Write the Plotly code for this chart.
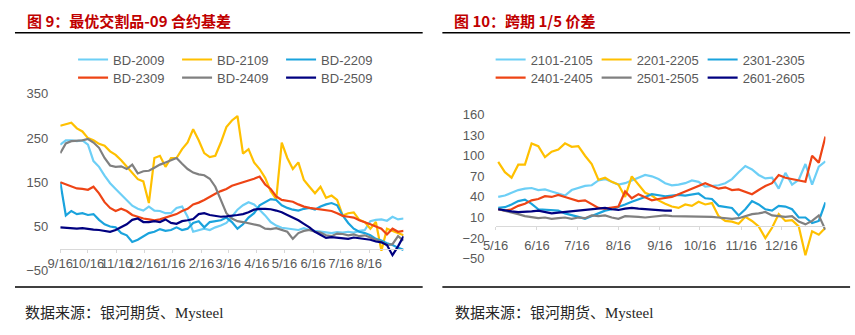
import pandas as pd
import plotly.graph_objects as go

W, H = 855, 335

# ---------------- data: left chart (最优交割品-09 合约基差) ----------------
left_start = "2019-09-16"
left_step_days = 6
bd_2009 = [235, 245, 245, 243, 245, 235, 198, 185, 165, 148, 135, 122, 110, 97, 90, 86, 95, 86, 85, 80,
           80, 92, 95, 72, 38, 42, 45, 42, 48, 52, 58, 72, 88, 98, 105, 100, 88, 75, 60, 52,
           47, 45, 43, 42, 46, 42, 40, 38, 36, 35, 37, 36, 38, 36, 40, 42, 62, 65, 66, 63,
           72, 66, 68]
bd_2109 = [278, 282, 285, 272, 265, 250, 245, 237, 233, 220, 212, 200, 185, 170, 157, 152, 103, 205, 210, 185,
           205, 205, 225, 240, 270, 245, 216, 207, 210, 240, 275, 290, 300, 215, 225, 195, 180, 160, 130, 112,
           240, 205, 180, 195, 155, 140, 125, 140, 115, 120, 110, 75, 80, 82, 65, 60, 45, 60, -5, 45,
           40, 35, 30]
bd_2209 = [150, 75, 85, 78, 80, 76, 78, 65, 55, 50, 48, 35, 30, 15, 20, 28, 35, 38, 44, 40,
           42, 48, 42, 45, 58, 62, 48, 60, 62, 64, 70, 60, 45, 55, 70, 80, 98, 105, 112, 110,
           98, 92, 88, 86, 90, 92, 88, 95, 100, 103, 98, 75, 58, 45, 38, 35, 30, 22, 18, 12,
           8, 2, -3]
bd_2309 = [150, 145, 140, 136, 135, 133, 140, 125, 105, 92, 85, 90, 85, 76, 72, 68, 66, 64, 66, 70,
           75, 78, 85, 90, 100, 104, 110, 118, 124, 130, 135, 142, 146, 150, 153, 158, 163, 145, 135, 118,
           110, 108, 106, 100, 95, 92, 90, 88, 86, 85, 80, 74, 72, 70, 64, 60, 55, 50, 45, 32,
           45, 38, 40]
bd_2409 = [216, 238, 243, 244, 245, 248, 240, 228, 205, 188, 185, 186, 180, 190, 170, 175, 176, 183, 190, 195,
           200, 205, 192, 180, 172, 168, 166, 158, 140, 110, 80, 68, 62, 60, 57, 55, 52, 45, 44, 46,
           42, 38, 22, 35, 40, 42, 38, 36, 30, 28, 34, 33, 30, 32, 28, 30, 25, 20, 15, 8,
           10, 28, 18]
bd_2509 = [48, 47, 46, 45, 46, 44, 43, 42, 40, 38, 42, 48, 55, 65, 68, 60, 60, 62, 60, 66,
           58, 56, 62, 64, 67, 78, 80, 76, 74, 72, 73, 74, 76, 78, 82, 88, 90, 90, 89, 86,
           82, 76, 70, 64, 56, 48, 38, 30, 24, 26, 25, 24, 22, 25, 23, 22, 20, 16, 14, 8,
           -15, 5, 28]
left_names = ["BD-2009", "BD-2109", "BD-2209", "BD-2309", "BD-2409", "BD-2509"]
left_tick_dates = ["2019-09-16", "2019-10-16", "2019-11-16", "2019-12-16", "2020-01-16", "2020-02-16",
                   "2020-03-16", "2020-04-16", "2020-05-16", "2020-06-16", "2020-07-16", "2020-08-16"]
left_tick_labels = ["9/16", "10/16", "11/16", "12/16", "1/16", "2/16",
                    "3/16", "4/16", "5/16", "6/16", "7/16", "8/16"]
left_y_ticks = [-50, 50, 150, 250, 350]

# ---------------- data: right chart (跨期 1/5 价差) ----------------
right_start = "2020-05-18"
right_step_days = 5
s_2101_2105 = [40, 42, 46, 50, 52, 53, 50, 51, 48, 45, 42, 50, 53, 56, 57, 64, 66, 62, 58, 60,
               64, 68, 72, 70, 66, 60, 57, 58, 60, 64, 62, 55, 56, 57, 60, 66, 76, 85, 80, 72,
               67, 68, 52, 75, 58, 65, 88, 58, 84, 92]
s_2201_2205 = [91, 76, 68, 87, 87, 118, 114, 98, 106, 109, 118, 113, 114, 100, 88, 65, 68, 62, 58, 40,
               70, 58, 46, 42, 35, 30, 26, 24, 29, 27, 33, 29, 31, 12, 5, 4, 1, 11, 5, -3,
               -20, -5, 15, 5, 6, -3, -45, -10, -15, -5]
s_2301_2305 = [24, 25, 29, 34, 36, 30, 22, 21, 20, 20, 16, 14, 11, 8, 12, 15, 20, 22, 25, 29,
               33, 36, 40, 44, 42, 41, 42, 43, 42, 43, 45, 38, 37, 27, 25, 24, 13, 22, 34, 29,
               22, 20, 27, 26, 22, 10, 10, 2, 5, 32]
s_2401_2405 = [22, 20, 22, 27, 30, 35, 37, 41, 40, 43, 40, 37, 34, 35, 30, 24, 23, 24, 26, 48,
               38, 44, 40, 35, 37, 38, 40, 44, 48, 52, 57, 60, 56, 52, 54, 50, 51, 47, 44, 50,
               56, 60, 72, 68, 66, 63, 62, 100, 90, 128]
s_2501_2505 = [22, 20, 17, 15, 12, 11, 9, 10, 8, 9, 10, 8, 10, 9, 13, 12, 13, 10, 8, 12,
               12, 11, 10, 11, 12, 13, 12, 12, 11, 11, 12, 11, 11, 10, 9, 8, 9, 12, 15, 16,
               18, 13, 12, 11, 12, 4, 0, 5, 13, -8]
s_2601_2605 = [22, 20, 19, 18, 18, 19, 20, 18, 16, 17, 18, 19, 20, 21, 22, 23, 24, 22, 21, 23,
               24, 23, 22, 22, 21, 20, 20]
right_names = ["2101-2105", "2201-2205", "2301-2305", "2401-2405", "2501-2505", "2601-2605"]
right_tick_dates = ["2020-05-16", "2020-06-16", "2020-07-16", "2020-08-16",
                    "2020-09-16", "2020-10-16", "2020-11-16", "2020-12-16"]
right_tick_labels = ["5/16", "6/16", "7/16", "8/16", "9/16", "10/16", "11/16", "12/16"]
right_y_ticks = [-50, -20, 10, 40, 70, 100, 130, 160]

colors = ["#6DCFF6", "#FFC000", "#1AA3DD", "#EE4415", "#808080", "#000080"]

# ---------------- helpers (pixel -> paper, margins are zero) ----------------
def fx(p):
    return p / W

def fy(p):
    return 1 - p / H

TICK_FONT = dict(family="Liberation Sans, Arial, sans-serif", size=13, color="#595959")

fig = go.Figure()

left_series = [bd_2009, bd_2109, bd_2209, bd_2309, bd_2409, bd_2509]
for k, (name, vals) in enumerate(zip(left_names, left_series)):
    dates = pd.date_range(left_start, periods=len(vals), freq=f"{left_step_days}D")
    fig.add_trace(go.Scatter(
        x=dates, y=vals, name=name, mode="lines",
        line=dict(color=colors[k], width=2.2),
        xaxis="x", yaxis="y",
        legend="legend" if k < 3 else "legend2",
    ))

right_series = [s_2101_2105, s_2201_2205, s_2301_2305, s_2401_2405, s_2501_2505, s_2601_2605]
for k, (name, vals) in enumerate(zip(right_names, right_series)):
    dates = pd.date_range(right_start, periods=len(vals), freq=f"{right_step_days}D")
    fig.add_trace(go.Scatter(
        x=dates, y=vals, name=name, mode="lines",
        line=dict(color=colors[k], width=2.2),
        xaxis="x2", yaxis="y2",
        legend="legend3" if k < 3 else "legend4",
    ))

def legend_cfg(x_px, y_px, ew):
    return dict(
        orientation="h", x=fx(x_px), y=fy(y_px), xanchor="left", yanchor="middle",
        entrywidth=ew, entrywidthmode="pixels", itemwidth=30,
        font=dict(family="Liberation Sans, Arial, sans-serif", size=13, color="#595959"),
        bgcolor="rgba(0,0,0,0)", borderwidth=0, traceorder="normal",
    )

common_x = dict(
    type="date", tickmode="array", tickangle=0,
    showgrid=False, zeroline=False, showline=True, linecolor="#D9D9D9", linewidth=1,
    ticks="outside", ticklen=3, tickcolor="#D9D9D9", tickfont=TICK_FONT,
    anchor="free",
)
common_y = dict(
    tickmode="array", showgrid=False, zeroline=False, showline=False,
    tickfont=TICK_FONT, ticks="",
)

fig.update_layout(
    width=W, height=H,
    margin=dict(l=0, r=0, t=0, b=0, pad=0),
    paper_bgcolor="white", plot_bgcolor="white",
    showlegend=True,
    xaxis=dict(common_x, domain=[fx(48), fx(396.6)],
               range=["2019-09-16", "2020-09-22"],
               tickvals=left_tick_dates, ticktext=left_tick_labels,
               position=fy(252.9), ticklabelstandoff=0),
    yaxis=dict(common_y, domain=[fy(276), fy(91)], range=[-50, 350],
               tickvals=left_y_ticks, anchor="x", ticklabelstandoff=11),
    xaxis2=dict(common_x, domain=[fx(490), fx(825)],
                range=["2020-05-16", "2021-01-18"],
                tickvals=right_tick_dates, ticktext=right_tick_labels,
                position=fy(229.5), ticklabelstandoff=4),
    yaxis2=dict(common_y, domain=[fy(263.5), fy(112.6)], range=[-50, 160],
                tickvals=right_y_ticks, anchor="x2", ticklabelstandoff=10),
    legend=legend_cfg(61, 55, 59),
    legend2=legend_cfg(61, 74, 59),
    legend3=legend_cfg(485, 55, 61),
    legend4=legend_cfg(485, 74, 61),
)

# titles
TITLE_FONT = dict(family="Noto Sans CJK SC, sans-serif", size=15, color="#C00000")
fig.add_annotation(text="<b>图 9：最优交割品-09 合约基差</b>", x=fx(12), y=fy(14),
                   xref="paper", yref="paper", xanchor="left", yanchor="middle",
                   showarrow=False, font=TITLE_FONT)
fig.add_annotation(text="<b>图 10：跨期 1/5 价差</b>", x=fx(446), y=fy(14),
                   xref="paper", yref="paper", xanchor="left", yanchor="middle",
                   showarrow=False, font=TITLE_FONT)

# source notes
SRC_FONT = dict(family="Liberation Serif, Noto Sans CJK SC, serif", size=15, color="#262626")
for x0 in (10, 447):
    fig.add_annotation(text="数据来源：银河期货、Mysteel", x=fx(x0), y=fy(320),
                       xref="paper", yref="paper", xanchor="left", yanchor="middle",
                       showarrow=False, font=SRC_FONT)

# separator rules
for (x0, x1) in ((2, 416), (436, 850)):
    for yy in (27, 293):
        fig.add_shape(type="line", xref="paper", yref="paper",
                      x0=fx(x0), x1=fx(x1), y0=fy(yy), y1=fy(yy),
                      line=dict(color="#000000", width=1.5))

fig.write_html("out.html")
